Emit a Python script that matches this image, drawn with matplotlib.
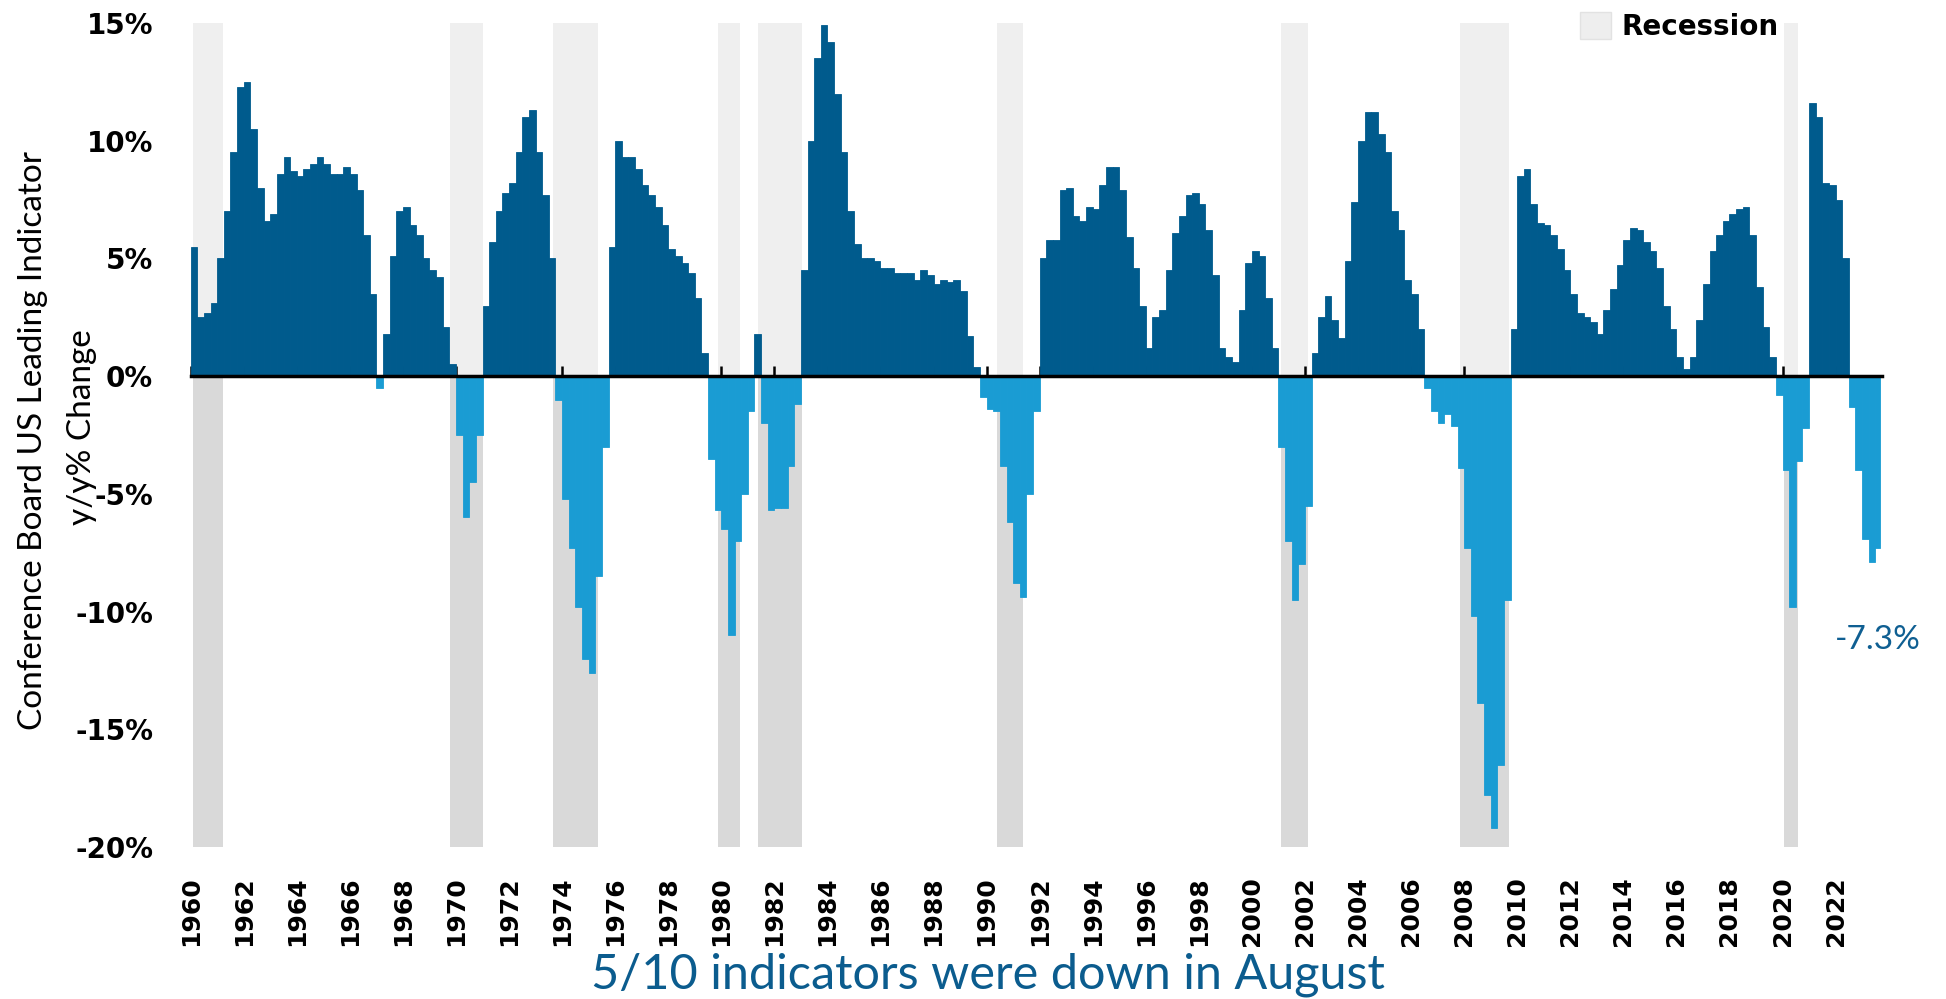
import matplotlib
matplotlib.use('Agg')
import matplotlib.pyplot as plt
from matplotlib.patches import Patch
import numpy as np

# Conference Board LEI, y/y % change, one value per quarter
# (first value = 1960 Q1, last = 2023 Q3 which only runs to August)
lei_1960s = [5.5, 2.5, 2.7, 3.1, 5.0, 7.0, 9.5, 12.3, 12.5, 10.5, 8.0, 6.6,
             6.9, 8.6, 9.3, 8.7, 8.5, 8.8, 9.0, 9.3, 9.0, 8.6, 8.6, 8.9,
             8.6, 7.9, 6.0, 3.5, -0.5, 1.8, 5.1, 7.0, 7.2, 6.4, 6.0, 5.0,
             4.5, 4.2, 2.1, 0.5]
lei_1970s = [-2.5, -6.0, -4.5, -2.5, 3.0, 5.7, 7.0, 7.8, 8.2, 9.5, 11.0, 11.3,
             9.5, 7.7, 5.0, -1.0, -5.2, -7.3, -9.8, -12.0, -12.6, -8.5, -3.0, 5.5,
             10.0, 9.3, 9.3, 8.8, 8.1, 7.7, 7.2, 6.4, 5.4, 5.1, 4.8, 4.4,
             3.3, 1.0, -3.5, -5.7]
lei_1980s = [-6.5, -11.0, -7.0, -5.0, -1.5, 1.8, -2.0, -5.7, -5.6, -5.6, -3.8, -1.2,
             4.5, 10.0, 13.5, 14.9, 14.2, 12.0, 9.5, 7.0, 5.6, 5.0, 5.0, 4.9,
             4.6, 4.6, 4.4, 4.4, 4.4, 4.1, 4.5, 4.3, 3.9, 4.1, 4.0, 4.1,
             3.6, 1.7, 0.4, -0.9]
lei_1990s = [-1.4, -1.5, -3.8, -6.2, -8.8, -9.4, -5.0, -1.5, 5.0, 5.8, 5.8, 7.9,
             8.0, 6.8, 6.6, 7.2, 7.1, 8.1, 8.9, 8.9, 7.9, 5.9, 4.6, 3.0,
             1.2, 2.5, 2.8, 4.5, 6.1, 6.8, 7.7, 7.8, 7.3, 6.2, 4.3, 1.2,
             0.8, 0.6, 2.8, 4.8]
lei_2000s = [5.3, 5.1, 3.3, 1.2, -3.0, -7.0, -9.5, -8.0, -5.5, 1.0, 2.5, 3.4,
             2.4, 1.6, 4.9, 7.4, 10.0, 11.2, 11.2, 10.3, 9.5, 7.0, 6.2, 4.1,
             3.5, 2.0, -0.5, -1.5, -2.0, -1.6, -2.1, -3.9, -7.3, -10.2, -13.9, -17.8,
             -19.2, -16.5, -9.5, 2.0]
lei_2010s = [8.5, 8.8, 7.3, 6.5, 6.4, 6.0, 5.4, 4.5, 3.5, 2.7, 2.5, 2.3,
             1.8, 2.8, 3.7, 4.7, 5.8, 6.3, 6.2, 5.7, 5.3, 4.6, 3.0, 2.0,
             0.8, 0.3, 0.8, 2.4, 3.9, 5.3, 6.0, 6.6, 6.9, 7.1, 7.2, 6.0,
             3.8, 2.1, 0.8, -0.8]
lei_2020s = [-4.0, -9.8, -3.6, -2.2, 11.6, 11.0, 8.2, 8.1, 7.5, 5.0, -1.3, -4.0,
             -6.9, -7.9, -7.3]

# recession bands as drawn on the chart (decimal years)
rec_start = [1960.07, 1969.77, 1973.67, 1979.89, 1981.39, 1990.38, 2001.10, 2007.85, 2020.07]
rec_end = [1961.22, 1971.00, 1975.36, 1980.70, 1983.03, 1991.38, 2002.10, 2009.70, 2020.57]

tick_years = list(range(1960, 2023, 2))
last_value_label = '-7.3%'
caption = '5/10 indicators were down in August'

lei = np.array(lei_1960s + lei_1970s + lei_1980s + lei_1990s + lei_2000s + lei_2010s + lei_2020s)
t = 1960 + 0.25 * np.arange(len(lei))
data_end = 2023 + 8 / 12
widths = np.minimum(0.25, data_end - t)

dark = '#005b8d'
light = '#1a9cd3'

fig = plt.figure(figsize=(19.46, 9.99), dpi=100)
ax = fig.add_axes([190.7 / 1946, 1 - 847 / 999, (1882 - 190.7) / 1946, (847 - 23) / 999])

# recession shading: lighter above zero, darker below
rs = np.array(rec_start)
rw = np.array(rec_end) - rs
ax.bar(rs, 15, width=rw, bottom=0, align='edge', color='#efefef', zorder=0)
ax.bar(rs, 20, width=rw, bottom=-20, align='edge', color='#d9d9d9', zorder=0)

cols = np.where(lei >= 0, dark, light)
ax.bar(t, lei, width=widths, align='edge', color=cols, edgecolor=cols, linewidth=0.6, zorder=2)

ax.set_xlim(1960, 2023.75)
ax.set_ylim(-20, 15)

for s in ['top', 'right', 'left']:
    ax.spines[s].set_visible(False)
ax.spines['bottom'].set_position(('data', 0))
ax.spines['bottom'].set_linewidth(2.5)
ax.spines['bottom'].set_zorder(3)

ax.set_xticks(tick_years)
ax.tick_params(axis='x', direction='in', length=7, width=1.8, labelbottom=False)
ax.set_yticks(range(-20, 16, 5))
ax.set_yticklabels([f'{v}%' for v in range(-20, 16, 5)], fontsize=20, fontweight='bold')
ax.tick_params(axis='y', length=0, pad=27)

# year labels sit at the bottom of the plot, not on the zero line
sec = ax.secondary_xaxis('bottom')
sec.set_xticks(tick_years)
sec.set_xticklabels([str(y) for y in tick_years], rotation=90, fontsize=18, fontweight='bold')
sec.tick_params(length=0, pad=21)
sec.spines['bottom'].set_visible(False)

handles = [Patch(facecolor='#eeeeee', edgecolor='#e2e2e2', label='Recession')]
fig.legend(handles=handles, loc='upper left', bbox_to_anchor=(1580 / 1946, 1 - 12 / 999),
           frameon=False, prop={'weight': 'bold', 'size': 20}, handlelength=1.1,
           handleheight=1.1, handletextpad=0.4, borderpad=0, borderaxespad=0)

fig.text(33 / 1946, 1 - 441 / 999, 'Conference Board US Leading Indicator', rotation=90,
         ha='center', va='center', fontsize=24, family='Lato')
fig.text(82 / 1946, 1 - 427 / 999, 'y/y% Change', rotation=90,
         ha='center', va='center', fontsize=24, family='Lato')

fig.text(1878 / 1946, 1 - 640 / 999, last_value_label, ha='center', va='center',
         fontsize=24, color='#0f5f92', family='Lato')
fig.text(988 / 1946, 1 - 975 / 999, caption, ha='center', va='center',
         fontsize=35, color='#0b5c8e', family='Lato')

fig.savefig('out.png', dpi=100)
